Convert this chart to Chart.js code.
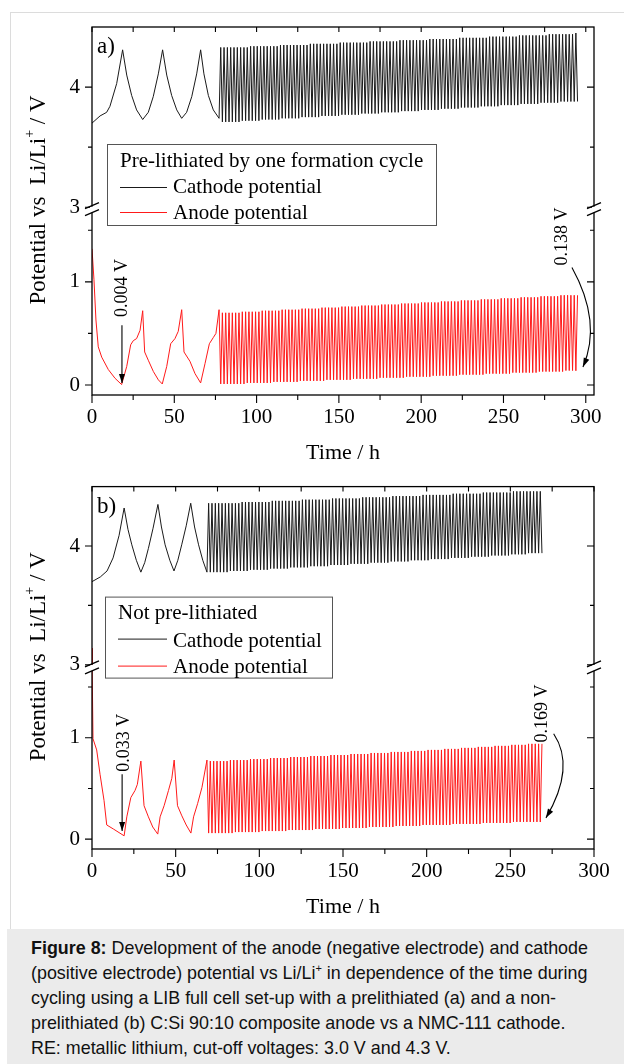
<!DOCTYPE html>
<html>
<head>
<meta charset="utf-8">
<script src="https://cdn.jsdelivr.net/npm/chart.js@4.4.1/dist/chart.umd.min.js"></script>
<style>
  body { margin: 0; background: #fff; width: 624px; height: 1064px; overflow: hidden; position: relative; }
  #frame { position: absolute; left: 10px; top: 12px; width: 620px; height: 916px; border-top: 1px solid #dcdcdc; border-left: 1px solid #dcdcdc; }
  canvas { position: absolute; left: 0; }
  #cA { top: 0; }
  #cB { top: 462px; }
  #caption { position: absolute; left: 7px; top: 929px; width: 617px; height: 135px; background: #ebebeb;
    font-family: "Liberation Sans", Arial, sans-serif; font-size: 17.9px; line-height: 25px; color: #111;
    padding: 7px 0 0 24px; box-sizing: border-box; white-space: nowrap; }
  #caption sup { font-size: 11px; line-height: 0; }
</style>
</head>
<body>
<div id="frame"></div>
<canvas id="cA" width="624" height="462"></canvas>
<canvas id="cB" width="624" height="466"></canvas>
<div id="caption"><b>Figure 8:</b> Development of the anode (negative electrode) and cathode<br>(positive electrode) potential vs Li/Li<sup>+</sup> in dependence of the time during<br>cycling using a LIB full cell set-up with a prelithiated (a) and a non-<br>prelithiated (b) C:Si 90:10 composite anode vs a NMC-111 cathode.<br>RE: metallic lithium, cut-off voltages: 3.0 V and 4.3 V.</div>
<script>
// axis ticks
const xTicks = [0, 25, 50, 75, 100, 125, 150, 175, 200, 225, 250, 275, 300];
const yTicksUpper = [3, 3.5, 4];
const yTicksLower = [0, 0.5, 1, 1.5];

// panel a: formation cycles (time h, potential V)
const formTimeCathA = [0, 4.9, 8.9, 10.9, 15, 18.6, 21.1, 24.1, 27.1, 30.8, 34.2, 37.2, 40.3, 42.9, 45.4, 48.4, 51.5, 54.5, 57.5, 60.6, 63.6, 66.0, 68.0, 70.7, 73.7, 77.2];
const formCathA     = [3.70, 3.76, 3.79, 3.84, 4.03, 4.31, 4.10, 3.93, 3.81, 3.73, 3.79, 3.92, 4.11, 4.31, 4.10, 3.93, 3.81, 3.74, 3.79, 3.92, 4.11, 4.31, 4.11, 3.93, 3.81, 3.74];
const formTimeAnA = [0, 1.2, 2.4, 3.8, 5.9, 9.9, 14, 18, 21.1, 23.5, 25.1, 27.1, 29.2, 30.8, 32, 34.2, 37.3, 40.3, 42.7, 45.4, 47.8, 50.4, 52.4, 54.5, 55.9, 59.5, 62.6, 66, 68.7, 71.3, 73.7, 75.3, 77.2];
const formAnA     = [1.32, 1.02, 0.63, 0.37, 0.27, 0.15, 0.065, 0.004, 0.18, 0.39, 0.43, 0.45, 0.53, 0.72, 0.32, 0.24, 0.13, 0.05, 0.01, 0.18, 0.40, 0.45, 0.52, 0.73, 0.32, 0.23, 0.11, 0.02, 0.21, 0.40, 0.46, 0.50, 0.73];

// panel a: fast cycling, one value per cycle
const fastStartA = 77.2, fastEndA = 295;
const cathHiA = [
  4.33,4.33,4.33,4.33,4.33,4.33,4.33,4.33,4.33,
  4.34,4.34,4.34,4.34,4.34,4.34,4.34,4.34,4.34,
  4.35,4.35,4.35,4.35,4.35,4.35,4.35,4.35,4.35,
  4.36,4.36,4.36,4.36,4.36,4.36,4.36,4.36,4.36,
  4.37,4.37,4.37,4.37,4.37,4.37,4.37,4.37,4.37,
  4.38,4.38,4.38,4.38,4.38,4.38,4.38,4.38,4.38,
  4.39,4.39,4.39,4.39,4.39,4.39,4.39,4.39,4.39,
  4.40,4.40,4.40,4.40,4.40,4.40,4.40,4.40,4.40,
  4.41,4.41,4.41,4.41,4.41,4.41,4.41,4.41,4.41,
  4.42,4.42,4.42,4.42,4.42,4.42,4.42,4.42,4.42,
  4.43,4.43,4.43,4.43,4.43,4.43,4.43,4.43,4.43,
  4.44,4.44,4.44,4.44,4.44,4.44,4.44,4.44,4.45
];
const cathLoA = [
  3.71,3.71,3.71,3.71,3.71,3.71, 3.72,3.72,3.72,3.72,3.72,3.72,
  3.73,3.73,3.73,3.73,3.73,3.73, 3.74,3.74,3.74,3.74,3.74,3.74,
  3.75,3.75,3.75,3.75,3.75,3.75, 3.76,3.76,3.76,3.76,3.76,3.76,
  3.77,3.77,3.77,3.77,3.77,3.77, 3.78,3.78,3.78,3.78,3.78,3.78,
  3.79,3.79,3.79,3.79,3.79,3.79, 3.80,3.80,3.80,3.80,3.80,3.80,
  3.81,3.81,3.81,3.81,3.81,3.81, 3.82,3.82,3.82,3.82,3.82,3.82,
  3.83,3.83,3.83,3.83,3.83,3.83, 3.84,3.84,3.84,3.84,3.84,3.84,
  3.85,3.85,3.85,3.85,3.85,3.85, 3.86,3.86,3.86,3.86,3.86,3.86,
  3.87,3.87,3.87,3.87,3.87,3.87, 3.88,3.88,3.88,3.88,3.88,3.88
];
const anLoA = [
  0.01,0.01,0.01,0.01,0.01,0.01,0.01,0.01, 0.02,0.02,0.02,0.02,0.02,0.02,0.02,0.02,
  0.03,0.03,0.03,0.03,0.03,0.03,0.03,0.03, 0.04,0.04,0.04,0.04,0.04,0.04,0.04,0.04,
  0.05,0.05,0.05,0.05,0.05,0.05,0.05,0.05, 0.06,0.06,0.06,0.06,0.06,0.06,0.06,0.06,
  0.07,0.07,0.07,0.07,0.07,0.07,0.07,0.07, 0.08,0.08,0.08,0.08,0.08,0.08,0.08,0.08,
  0.09,0.09,0.09,0.09,0.09,0.09,0.09,0.09, 0.10,0.10,0.10,0.10,0.10,0.10,0.10,0.10,
  0.11,0.11,0.11,0.11,0.11,0.11,0.11,0.11, 0.12,0.12,0.12,0.12,0.12,0.12,0.12,0.12,
  0.13,0.13,0.13,0.13,0.13,0.13,0.13,0.13, 0.14,0.14,0.14,0.138
];
const anHiA = [
  0.70,0.70,0.70,0.70,0.70,0.70, 0.71,0.71,0.71,0.71,0.71,0.71,
  0.72,0.72,0.72,0.72,0.72,0.72, 0.73,0.73,0.73,0.73,0.73,0.73,
  0.74,0.74,0.74,0.74,0.74,0.74, 0.75,0.75,0.75,0.75,0.75,0.75,
  0.76,0.76,0.76,0.76,0.76,0.76, 0.77,0.77,0.77,0.77,0.77,0.77,
  0.78,0.78,0.78,0.78,0.78,0.78, 0.79,0.79,0.79,0.79,0.79,0.79,
  0.80,0.80,0.80,0.80,0.80,0.80, 0.81,0.81,0.81,0.81,0.81,0.81,
  0.82,0.82,0.82,0.82,0.82,0.82, 0.83,0.83,0.83,0.83,0.83,0.83,
  0.84,0.84,0.84,0.84,0.84,0.84, 0.85,0.85,0.85,0.85,0.85,0.85,
  0.86,0.86,0.86,0.86,0.86,0.86, 0.87,0.87,0.87,0.87,0.87,0.87
];

// panel b: formation cycles
const formTimeCathB = [0, 5, 9, 12.6, 16.2, 19.2, 21.5, 23.8, 26.5, 29.2, 31.5, 33.7, 36.5, 39.4, 41.5, 43.7, 46.5, 49, 51.3, 53.6, 56.3, 59, 61.3, 63.7, 66.2, 68.7];
const formCathB     = [3.70, 3.74, 3.79, 3.90, 4.09, 4.32, 4.14, 4.01, 3.88, 3.78, 3.86, 3.98, 4.15, 4.35, 4.16, 4.01, 3.88, 3.79, 3.88, 4.01, 4.17, 4.36, 4.16, 4.01, 3.88, 3.78];
const startTimeAnB = [0, 0.1];          // first drop, above the axis break
const startAnB     = [3.14, 2.96];
const formTimeAnB = [0.1, 0.6, 2.8, 4.8, 7.2, 8.8, 12.8, 19.2, 20.8, 23.2, 25.7, 27.1, 29.2, 31.1, 33.7, 36.3, 39.3, 40.7, 43.1, 45.7, 47.7, 49.1, 51.1, 53.7, 56.3, 59.1, 60.7, 63.1, 65.7, 68.7];
const formAnB     = [1.69, 0.99, 0.88, 0.64, 0.38, 0.14, 0.10, 0.033, 0.22, 0.41, 0.48, 0.54, 0.77, 0.33, 0.22, 0.12, 0.05, 0.22, 0.33, 0.48, 0.60, 0.78, 0.33, 0.23, 0.14, 0.06, 0.22, 0.35, 0.51, 0.78];

// panel b: fast cycling, one value per cycle
const fastStartB = 68.7, fastEndB = 268.9;
const cathHiB = [
  4.36,4.36,4.36,4.36,4.36,4.36,4.36,4.36,4.36,4.36,
  4.37,4.37,4.37,4.37,4.37,4.37,4.37,4.37,4.37,
  4.38,4.38,4.38,4.38,4.38,4.38,4.38,4.38,4.38,
  4.39,4.39,4.39,4.39,4.39,4.39,4.39,4.39,4.39,
  4.40,4.40,4.40,4.40,4.40,4.40,4.40,4.40,4.40,
  4.41,4.41,4.41,4.41,4.41,4.41,4.41,4.41,4.41,
  4.42,4.42,4.42,4.42,4.42,4.42,4.42,4.42,4.42,
  4.43,4.43,4.43,4.43,4.43,4.43,4.43,4.43,4.43,
  4.44,4.44,4.44,4.44,4.44,4.44,4.44,4.44,4.44,
  4.45,4.45,4.45,4.45,4.45,4.45,4.45,4.45,4.45,
  4.46,4.46,4.46,4.46,4.46,4.46,4.46,4.46,4.46
];
const cathLoB = [
  3.78,3.78,3.78,3.78,3.78,3.78, 3.79,3.79,3.79,3.79,3.79,3.79,
  3.80,3.80,3.80,3.80,3.80,3.80, 3.81,3.81,3.81,3.81,3.81,3.81,
  3.82,3.82,3.82,3.82,3.82,3.82, 3.83,3.83,3.83,3.83,3.83,3.83,
  3.84,3.84,3.84,3.84,3.84,3.84, 3.85,3.85,3.85,3.85,3.85,3.85,
  3.86,3.86,3.86,3.86,3.86,3.86, 3.87,3.87,3.87,3.87,3.87,3.87,
  3.88,3.88,3.88,3.88,3.88,3.88, 3.89,3.89,3.89,3.89,3.89,3.89,
  3.90,3.90,3.90,3.90,3.90,3.90, 3.91,3.91,3.91,3.91,3.91,3.91,
  3.92,3.92,3.92,3.92,3.92,3.92,
  3.93,3.93,3.93,3.93,3.93, 3.94,3.94,3.94,3.94,3.94
];
const anLoB = [
  0.06,0.06,0.06,0.06,0.06,0.06,0.06,0.06, 0.07,0.07,0.07,0.07,0.07,0.07,0.07,0.07,
  0.08,0.08,0.08,0.08,0.08,0.08,0.08,0.08, 0.09,0.09,0.09,0.09,0.09,0.09,0.09,0.09,
  0.10,0.10,0.10,0.10,0.10,0.10,0.10,0.10, 0.11,0.11,0.11,0.11,0.11,0.11,0.11,0.11,
  0.12,0.12,0.12,0.12,0.12,0.12,0.12,0.12, 0.13,0.13,0.13,0.13,0.13,0.13,0.13,0.13,
  0.14,0.14,0.14,0.14,0.14,0.14,0.14,0.14,0.14,
  0.15,0.15,0.15,0.15,0.15,0.15,0.15,0.15,0.15,
  0.16,0.16,0.16,0.16,0.16,0.16,0.16,0.16,0.16,
  0.17,0.17,0.17,0.17,0.17,0.17,0.17,0.17,0.169
];
const anHiB = [
  0.77,0.77,0.77,0.77,0.77,0.77, 0.78,0.78,0.78,0.78,0.78,0.78,
  0.79,0.79,0.79,0.79,0.79,0.79, 0.80,0.80,0.80,0.80,0.80,0.80,
  0.81,0.81,0.81,0.81,0.81,0.81, 0.82,0.82,0.82,0.82,0.82,0.82,
  0.83,0.83,0.83,0.83,0.83,0.83, 0.84,0.84,0.84,0.84,0.84,0.84,
  0.85,0.85,0.85,0.85,0.85,0.85, 0.86,0.86,0.86,0.86,0.86,0.86,
  0.87,0.87,0.87,0.87,0.87, 0.88,0.88,0.88,0.88,0.88,
  0.89,0.89,0.89,0.89,0.89, 0.90,0.90,0.90,0.90,0.90,
  0.91,0.91,0.91,0.91,0.91, 0.92,0.92,0.92,0.92,0.92,
  0.93,0.93,0.93,0.93,0.93, 0.94,0.94,0.94,0.94,0.94
];

const SERIF = '"Liberation Serif", "Times New Roman", serif';
const CATH_COLOR = "#1a1a1a";
const AN_COLOR = "#ff1a1a";

function toPoints(times, values) {
  return times.map((t, i) => ({ x: t, y: values[i] }));
}

// formation points, then one up/down stroke per fast cycle
function buildSeries(formT, formV, start, end, first, second) {
  const pts = toPoints(formT, formV);
  const n = Math.min(first.length, second.length);
  const p = (end - start) / n;
  for (let i = 0; i < n; i++) {
    pts.push({ x: start + (i + 0.5) * p, y: first[i] });
    pts.push({ x: start + (i + 1) * p, y: second[i] });
  }
  return pts;
}

function arrowHead(ctx, fx, fy, tx, ty) {
  const ang = Math.atan2(ty - fy, tx - fx);
  ctx.beginPath();
  ctx.moveTo(tx, ty);
  ctx.lineTo(tx - 9 * Math.cos(ang) + 3 * Math.sin(ang), ty - 9 * Math.sin(ang) - 3 * Math.cos(ang));
  ctx.lineTo(tx - 9 * Math.cos(ang) - 3 * Math.sin(ang), ty - 9 * Math.sin(ang) + 3 * Math.cos(ang));
  ctx.closePath();
  ctx.fill();
}

function makeDecor(cfg) {
  return {
    id: "decor",
    afterDraw(chart) {
      const { ctx, chartArea: a, scales } = chart;
      const sx = scales.x, hi = scales.yHi, lo = scales.yLo;
      ctx.save();
      ctx.strokeStyle = "#000";
      ctx.fillStyle = "#000";

      // frame
      ctx.lineWidth = 1.3;
      ctx.strokeRect(a.left, a.top, a.right - a.left, a.bottom - a.top);

      // ticks: outside on left/bottom, inside on top/right
      ctx.lineWidth = 1.1;
      ctx.beginPath();
      xTicks.forEach(v => {
        const px = sx.getPixelForValue(v);
        const major = v % 50 === 0;
        ctx.moveTo(px, a.bottom); ctx.lineTo(px, a.bottom + (major ? 8 : 5));
        ctx.moveTo(px, a.top); ctx.lineTo(px, a.top + 5);
      });
      [[hi, yTicksUpper], [lo, yTicksLower]].forEach(([s, arr]) => arr.forEach(v => {
        const py = s.getPixelForValue(v);
        const len = Number.isInteger(v) ? 7 : 4;
        ctx.moveTo(a.left - len, py); ctx.lineTo(a.left, py);
        ctx.moveTo(a.right - len, py); ctx.lineTo(a.right, py);
      }));
      ctx.stroke();

      // axis breaks
      const by = hi.bottom;
      [a.left, a.right].forEach(bx => {
        ctx.fillStyle = "#fff";
        ctx.fillRect(bx - 2, by - 3, 4, 6);
        ctx.fillStyle = "#000";
        ctx.beginPath();
        ctx.moveTo(bx - 7, by - 1); ctx.lineTo(bx + 7, by - 7);
        ctx.moveTo(bx - 7, by + 6); ctx.lineTo(bx + 7, by);
        ctx.lineWidth = 1.3;
        ctx.stroke();
      });

      // legend box
      const L = cfg.legend;
      const lx = a.left + L.x, ly = a.top + L.y;
      ctx.fillStyle = "#fff";
      ctx.fillRect(lx, ly, L.w, L.h);
      ctx.lineWidth = 1;
      ctx.strokeStyle = "#555";
      ctx.strokeRect(lx + 0.5, ly + 0.5, L.w, L.h);
      ctx.fillStyle = "#000";
      ctx.font = "21px " + SERIF;
      ctx.textAlign = "left";
      ctx.textBaseline = "alphabetic";
      ctx.fillText(L.title, a.left + L.titleX, a.top + L.base[0]);
      [["Cathode potential", CATH_COLOR], ["Anode potential", AN_COLOR]].forEach(([txt, col], i) => {
        ctx.strokeStyle = col;
        ctx.lineWidth = 1;
        ctx.beginPath();
        ctx.moveTo(a.left + L.line0, a.top + L.lineY[i] + 0.5);
        ctx.lineTo(a.left + L.line1, a.top + L.lineY[i] + 0.5);
        ctx.stroke();
        ctx.fillText(txt, a.left + L.textX, a.top + L.base[i + 1]);
      });

      // panel label
      ctx.font = "23px " + SERIF;
      ctx.fillText(cfg.label, a.left + 5, a.top + 26);

      // x title
      ctx.font = "22px " + SERIF;
      ctx.textAlign = "center";
      ctx.textBaseline = "middle";
      ctx.fillText("Time / h", (a.left + a.right) / 2, a.bottom + 58);

      // y title with superscript +
      ctx.save();
      ctx.translate(39, (a.top + a.bottom) / 2 - 11);
      ctx.rotate(-Math.PI / 2);
      ctx.textAlign = "left";
      ctx.font = "23px " + SERIF;
      const p1 = "Potential vs  Li/Li", p3 = " / V";
      const w1 = ctx.measureText(p1).width, w3 = ctx.measureText(p3).width;
      ctx.font = "14px " + SERIF;
      const w2 = ctx.measureText("+").width;
      const x0 = -(w1 + w2 + w3) / 2;
      ctx.fillText("+", x0 + w1, -9);
      ctx.font = "23px " + SERIF;
      ctx.fillText(p1, x0, 0);
      ctx.fillText(p3, x0 + w1 + w2, 0);
      ctx.restore();

      // annotations
      ctx.strokeStyle = "#000";
      ctx.fillStyle = "#000";
      ctx.lineWidth = 1.1;
      cfg.notes.forEach(n => {
        ctx.save();
        ctx.translate(sx.getPixelForValue(n.tx), lo.getPixelForValue(n.ty));
        ctx.rotate(-Math.PI / 2);
        ctx.font = "18px " + SERIF;
        ctx.textAlign = "center";
        ctx.textBaseline = "middle";
        ctx.fillText(n.text, 0, 0);
        ctx.restore();
        const fx = sx.getPixelForValue(n.from[0]), fy = lo.getPixelForValue(n.from[1]);
        const tx = sx.getPixelForValue(n.to[0]), ty = lo.getPixelForValue(n.to[1]);
        ctx.beginPath();
        ctx.moveTo(fx, fy);
        if (n.ctrl) {
          const cx = sx.getPixelForValue(n.ctrl[0]), cy = lo.getPixelForValue(n.ctrl[1]);
          ctx.quadraticCurveTo(cx, cy, tx, ty);
          ctx.stroke();
          arrowHead(ctx, cx, cy, tx, ty);
        } else {
          ctx.lineTo(tx, ty);
          ctx.stroke();
          arrowHead(ctx, fx, fy, tx, ty);
        }
      });
      ctx.restore();
    }
  };
}

function makeChart(id, cfg) {
  const tickFont = { family: SERIF, size: 21 };
  return new Chart(document.getElementById(id).getContext("2d"), {
    type: "line",
    data: { datasets: cfg.datasets },
    options: {
      animation: false,
      responsive: false,
      devicePixelRatio: 1,
      layout: { padding: { left: 32, right: 30, top: cfg.top, bottom: 0 } },
      elements: { point: { radius: 0 }, line: { tension: 0, borderWidth: 1 } },
      plugins: { legend: { display: false }, tooltip: { enabled: false } },
      scales: {
        x: {
          type: "linear", min: 0, max: cfg.xMax,
          grid: { display: false, drawTicks: false }, border: { display: false },
          afterBuildTicks: s => { s.ticks = xTicks.map(v => ({ value: v })); },
          afterFit: s => { s.height = cfg.xHeight; },
          ticks: { callback: v => (v % 50 === 0 ? String(v) : ""), font: tickFont, color: "#000", padding: 10, maxRotation: 0, autoSkip: false }
        },
        yHi: {
          type: "linear", position: "left", stack: "v", stackWeight: cfg.wHi, weight: 1,
          min: cfg.hiMin, max: 4.5,
          grid: { display: false, drawTicks: false }, border: { display: false },
          afterBuildTicks: s => { s.ticks = yTicksUpper.map(v => ({ value: v })); },
          afterFit: s => { s.width = 60; },
          ticks: { callback: v => (Number.isInteger(v) ? String(v) : ""), font: tickFont, color: "#000", padding: 12 }
        },
        yLo: {
          type: "linear", position: "left", stack: "v", stackWeight: cfg.wLo, weight: 0,
          min: -0.097, max: cfg.loMax,
          grid: { display: false, drawTicks: false }, border: { display: false },
          afterBuildTicks: s => { s.ticks = yTicksLower.map(v => ({ value: v })); },
          afterFit: s => { s.width = 60; },
          ticks: { callback: v => (Number.isInteger(v) ? String(v) : ""), font: tickFont, color: "#000", padding: 12 }
        }
      }
    },
    plugins: [makeDecor(cfg)]
  });
}

makeChart("cA", {
  top: 27, xHeight: 67, xMax: 305, hiMin: 2.98, loMax: 1.70, wHi: 182.4, wLo: 185.1,
  label: "a)",
  datasets: [
    { label: "Cathode potential", yAxisID: "yHi", borderColor: CATH_COLOR,
      data: buildSeries(formTimeCathA, formCathA, fastStartA, fastEndA, cathHiA, cathLoA) },
    { label: "Anode potential", yAxisID: "yLo", borderColor: AN_COLOR,
      data: buildSeries(formTimeAnA, formAnA, fastStartA, fastEndA, anLoA, anHiA) }
  ],
  legend: { x: 15, y: 117, w: 329, h: 81, title: "Pre-lithiated by one formation cycle",
    titleX: 28, line0: 28, line1: 75, textX: 81, base: [140, 166, 192], lineY: [160, 185] },
  notes: [
    { text: "0.004 V", tx: 18.2, ty: 0.94, from: [18.2, 0.58], to: [18.2, 0.02] },
    { text: "0.138 V", tx: 286, ty: 1.44, from: [291.6, 1.14], ctrl: [310, 0.61], to: [298.3, 0.175] }
  ]
});

makeChart("cB", {
  top: 19, xHeight: 79, xMax: 300, hiMin: 2.975, loMax: 1.69, wHi: 184, wLo: 184,
  label: "b)",
  datasets: [
    { label: "Cathode potential", yAxisID: "yHi", borderColor: CATH_COLOR,
      data: buildSeries(formTimeCathB, formCathB, fastStartB, fastEndB, cathHiB, cathLoB) },
    { label: "Anode start", yAxisID: "yHi", borderColor: AN_COLOR,
      data: toPoints(startTimeAnB, startAnB) },
    { label: "Anode potential", yAxisID: "yLo", borderColor: AN_COLOR,
      data: buildSeries(formTimeAnB, formAnB, fastStartB, fastEndB, anLoB, anHiB) }
  ],
  legend: { x: 13, y: 110, w: 227, h: 81, title: "Not pre-lithiated",
    titleX: 26, line0: 26, line1: 75, textX: 81, base: [132, 160, 186], lineY: [152, 179] },
  notes: [
    { text: "0.033 V", tx: 19.2, ty: 0.95, from: [18, 0.64], to: [18, 0.08] },
    { text: "0.169 V", tx: 268.9, ty: 1.24, from: [275.9, 1.04], ctrl: [289.2, 0.71], to: [271.3, 0.21] }
  ]
});
</script>
</body>
</html>
